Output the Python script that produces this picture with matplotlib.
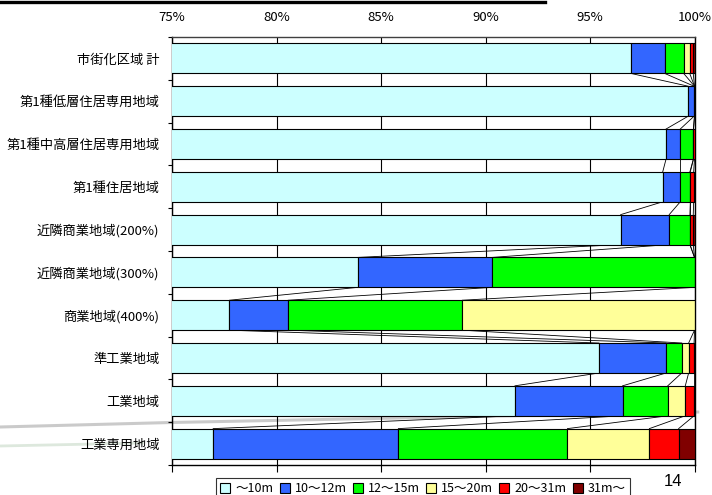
import numpy as np
import matplotlib
matplotlib.use('Agg')
import matplotlib.pyplot as plt
from matplotlib.lines import Line2D
from matplotlib.patches import Patch

plt.rcParams['font.family'] = ['Noto Sans CJK JP', 'DejaVu Sans']

categories = ['市街化区域 計', '第1種低層住居専用地域', '第1種中高層住居専用地域', '第1種住居地域',
              '近隣商業地域(200%)', '近隣商業地域(300%)', '商業地域(400%)', '準工業地域',
              '工業地域', '工業専用地域']
series_names = ['～10m', '10～12m', '12～15m', '15～20m', '20～31m', '31m～']
colors = ['#CCFFFF', '#3366FF', '#00FF00', '#FFFF99', '#FF0000', '#800000']

# shares in %
h10 = [96.95, 99.70, 98.64, 98.48, 96.47, 83.88, 77.75, 95.43, 91.41, 76.97]
h12 = [1.62, 0.28, 0.68, 0.84, 2.32, 6.43, 2.81, 3.21, 5.15, 8.86]
h15 = [0.91, 0.02, 0.63, 0.46, 0.99, 9.69, 8.33, 0.75, 2.16, 8.09]
h20 = [0.29, 0.00, 0.00, 0.02, 0.00, 0.00, 11.11, 0.33, 0.84, 3.92]
h31 = [0.17, 0.00, 0.05, 0.16, 0.16, 0.00, 0.00, 0.26, 0.42, 1.40]
h31p = [0.06, 0.00, 0.00, 0.04, 0.06, 0.00, 0.00, 0.02, 0.02, 0.76]
xticks = [75, 80, 85, 90, 95, 100]

data = np.array([h10, h12, h15, h20, h31, h31p])
cum = np.cumsum(data, axis=0)
left = cum - data
y = np.arange(len(categories))
bh = 0.70

fig = plt.figure(figsize=(7.12, 4.95), dpi=100)
ax = fig.add_axes([172/712, 1-465/495, 522.5/712, 428/495])
ax.patch.set_alpha(0)

# background decorations of the slide
fig.add_artist(Line2D([0, 0.24, 0.56, 0.98], [1-427/495, 1-422.5/495, 1-418/495, 1-412/495],
                      color='#a8a8a8', lw=2.2, alpha=0.6, zorder=-2))
fig.add_artist(Line2D([0, 0.2], [1-446/495, 1-443/495], color='#dde8dd', lw=2, zorder=-2))
fig.add_artist(Line2D([0, 545/712], [1-1.5/495, 1-1.5/495], color='black', lw=2.4))

for k in range(len(series_names)):
    ax.barh(y, data[k], left=left[k], height=bh, color=colors[k],
            edgecolor='black', linewidth=0.8, zorder=3, label=series_names[k])

# series lines between neighbouring bars
for i in range(len(categories) - 1):
    for k in range(len(series_names) - 1):
        ax.plot([cum[k, i], cum[k, i + 1]], [i + bh/2, i + 1 - bh/2],
                color='black', lw=0.6, zorder=2)

ax.set_xlim(75, 100)
ax.set_ylim(len(categories) - 0.5, -0.5)
ax.set_xticks(xticks)
ax.set_xticklabels([f'{v}%' for v in xticks])
ax.xaxis.set_ticks_position('bottom')
ax.tick_params(axis='x', direction='out', length=5, width=0.8, labelbottom=False,
               labeltop=True, labelsize=9.5, pad=4.5)
ax.grid(axis='x', color='black', lw=0.8, zorder=0)
ax.set_axisbelow(True)

ax.set_yticks(y)
ax.set_yticklabels(categories, fontsize=9.5)
ax.set_yticks(np.arange(-0.5, len(categories), 1), minor=True)
ax.tick_params(axis='y', which='major', length=0, pad=9)
ax.tick_params(axis='y', which='minor', length=3, width=0.8, direction='out')
for s in ax.spines.values():
    s.set_color('black')
    s.set_linewidth(1.0)
ax.spines['top'].set_color('#404040')

handles = [Patch(facecolor=c, edgecolor='black', lw=0.8) for c in colors]
leg = fig.legend(handles, series_names, loc='upper left', bbox_to_anchor=(216/712, 1-478/495),
                 ncol=6, fontsize=9, handlelength=0.8, handleheight=0.8, handletextpad=0.4,
                 columnspacing=0.5, borderpad=0.35, frameon=True, fancybox=False,
                 edgecolor='black', borderaxespad=0)
leg.get_frame().set_linewidth(0.8)

fig.text(673/712, 1-482/495, '14', fontsize=12, family='Liberation Sans', ha='center', va='center')

fig.savefig('out.png', dpi=100)
